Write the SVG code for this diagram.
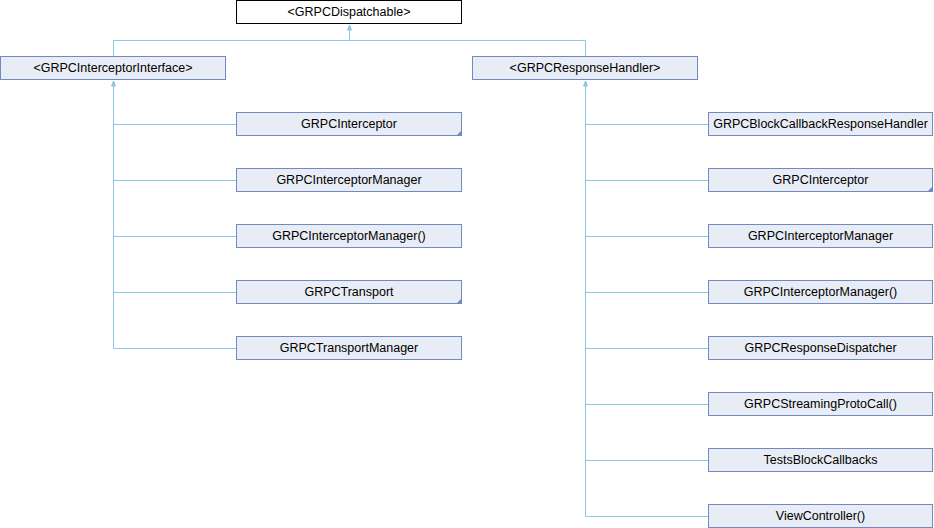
<svg xmlns="http://www.w3.org/2000/svg" width="934" height="528" viewBox="0 0 934 528">
<defs>
<style>
.n rect{fill:#e8ecf5;stroke:#7088c4;stroke-width:1}
.r rect{fill:#ffffff;stroke:#000000;stroke-width:1}
text{font-family:"Liberation Sans",Arial,sans-serif;font-size:12.5px;fill:#000;text-anchor:middle}
.c{fill:#7088c4}
.e path{fill:none;stroke:#8ec6e8;stroke-width:1}
.e polygon{fill:#8ec6e8;stroke:#8ec6e8;stroke-width:1}
</style>
</defs>
<rect width="934" height="528" fill="#ffffff"/>
<g id="edges" class="e">
<path d="M349.5,29 V40.5 M113.5,40.5 H585.5 M113.5,40.5 V56 M585.5,40.5 V56"/>
<polygon points="349.5,25 347.5,30 351.5,30"/>
<path d="M113.5,85 V348.5 M113.5,124.5 H236 M113.5,180.5 H236 M113.5,236.5 H236 M113.5,292.5 H236 M113.5,348.5 H236"/>
<polygon points="113.5,81 111.5,86 115.5,86"/>
<path d="M585.5,85 V516.5 M585.5,124.5 H708 M585.5,180.5 H708 M585.5,236.5 H708 M585.5,292.5 H708 M585.5,348.5 H708 M585.5,404.5 H708 M585.5,460.5 H708 M585.5,516.5 H708"/>
<polygon points="585.5,81 583.5,86 587.5,86"/>
</g>
<g id="n_dispatchable" class="r"><rect x="236.5" y="0.5" width="225" height="23"/><text x="349" y="16">&lt;GRPCDispatchable&gt;</text></g>
<g id="n_interceptorInterface" class="n"><rect x="0.5" y="56.5" width="225" height="23"/><text x="113" y="72">&lt;GRPCInterceptorInterface&gt;</text></g>
<g id="n_responseHandler" class="n"><rect x="472.5" y="56.5" width="225" height="23"/><text x="585" y="72">&lt;GRPCResponseHandler&gt;</text></g>
<g id="n_l_interceptor" class="n"><rect x="236.5" y="112.5" width="225" height="23"/><polygon class="c" points="462,130 462,136 456,136"/><text x="349" y="128">GRPCInterceptor</text></g>
<g id="n_l_interceptorManager" class="n"><rect x="236.5" y="168.5" width="225" height="23"/><text x="349" y="184">GRPCInterceptorManager</text></g>
<g id="n_l_interceptorManagerExt" class="n"><rect x="236.5" y="224.5" width="225" height="23"/><text x="349" y="240">GRPCInterceptorManager()</text></g>
<g id="n_l_transport" class="n"><rect x="236.5" y="280.5" width="225" height="23"/><polygon class="c" points="462,298 462,304 456,304"/><text x="349" y="296">GRPCTransport</text></g>
<g id="n_l_transportManager" class="n"><rect x="236.5" y="336.5" width="225" height="23"/><text x="349" y="352">GRPCTransportManager</text></g>
<g id="n_r_blockCallback" class="n"><rect x="708.5" y="112.5" width="224" height="23"/><text x="820.5" y="128">GRPCBlockCallbackResponseHandler</text></g>
<g id="n_r_interceptor" class="n"><rect x="708.5" y="168.5" width="224" height="23"/><polygon class="c" points="933,186 933,192 927,192"/><text x="820.5" y="184">GRPCInterceptor</text></g>
<g id="n_r_interceptorManager" class="n"><rect x="708.5" y="224.5" width="224" height="23"/><text x="820.5" y="240">GRPCInterceptorManager</text></g>
<g id="n_r_interceptorManagerExt" class="n"><rect x="708.5" y="280.5" width="224" height="23"/><text x="820.5" y="296">GRPCInterceptorManager()</text></g>
<g id="n_r_responseDispatcher" class="n"><rect x="708.5" y="336.5" width="224" height="23"/><text x="820.5" y="352">GRPCResponseDispatcher</text></g>
<g id="n_r_streamingProtoCall" class="n"><rect x="708.5" y="392.5" width="224" height="23"/><text x="820.5" y="408">GRPCStreamingProtoCall()</text></g>
<g id="n_r_testsBlockCallbacks" class="n"><rect x="708.5" y="448.5" width="224" height="23"/><text x="820.5" y="464">TestsBlockCallbacks</text></g>
<g id="n_r_viewController" class="n"><rect x="708.5" y="504.5" width="224" height="23"/><text x="820.5" y="520">ViewController()</text></g>
</svg>
